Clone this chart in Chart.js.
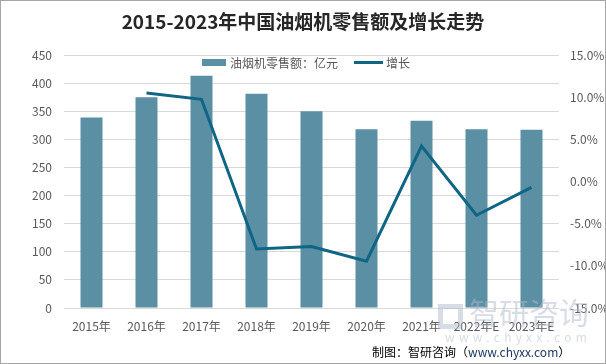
<!DOCTYPE html>
<html><head><meta charset="utf-8">
<script src="https://cdn.jsdelivr.net/npm/chart.js@4.4.1/dist/chart.umd.min.js"></script>
<style>
html,body{margin:0;padding:0;background:#fff;}
#wrap{position:relative;width:606px;height:364px;overflow:hidden;font-family:"Noto Sans CJK SC","Noto Sans",sans-serif;}
#frame{position:absolute;left:0;top:0;width:604px;height:362px;border:1px solid #A6A6A6;pointer-events:none;}
#title{position:absolute;left:0;top:7px;width:606px;text-align:center;font-size:19px;font-weight:bold;color:#262626;}
#legend{position:absolute;top:52px;left:202px;font-size:12px;color:#595959;white-space:nowrap;}
#legend span{display:inline-block;vertical-align:middle;}
#foot{position:absolute;left:372px;top:343px;font-size:12px;color:#000;white-space:nowrap;}
#foot b{font-weight:normal;color:#1F3864;}
#wm{position:absolute;left:438px;top:298px;color:rgba(175,185,205,0.5);white-space:nowrap;}
#wm .big{font-size:30px;letter-spacing:0px;position:absolute;left:31px;top:-7px;line-height:40px;}
#wm .sm{font-size:12px;letter-spacing:4.3px;position:absolute;left:7px;top:30px;}
#wm .logo{position:absolute;left:0;top:6px;width:25px;height:25px;border:5px solid rgba(175,185,205,0.5);box-sizing:border-box;}
</style></head>
<body><div id="wrap">
<canvas id="c" width="606" height="364"></canvas>
<div id="title">2015-2023年中国油烟机零售额及增长走势</div>
<div id="legend"><span style="width:24px;height:7px;background:#5B8FA4;margin-right:4px"></span><span>油烟机零售额：亿元</span><span style="width:29px;height:3px;background:#0F6584;margin-left:16px;margin-right:3px"></span><span>增长</span></div>
<div id="wm"><div class="logo"></div><div class="big">智研咨询</div><div class="sm">www.chyxx.com</div></div>
<div id="foot">制图：智研咨询（<b>www.chyxx.com</b>）</div>
<div id="frame"></div>
</div>
<script>
const categories = ["2015年","2016年","2017年","2018年","2019年","2020年","2021年","2022年E","2023年E"];
const salesValues = [339, 375, 413, 381, 350, 318, 333, 318, 317];
const growthValues = [null, 0.105, 0.0975, -0.080, -0.077, -0.0945, 0.042, -0.040, -0.007];
const leftTicks = [0,50,100,150,200,250,300,350,400,450];

const font = {family:'"Noto Sans CJK SC","Noto Sans",sans-serif', size:12};
new Chart(document.getElementById('c'), {
  data: {
    labels: categories,
    datasets: [
      {type:'line', label:'增长', data:growthValues, yAxisID:'y2', borderColor:'#0F6584', borderWidth:3, pointRadius:0, tension:0, spanGaps:false, order:0},
      {type:'bar', label:'油烟机零售额：亿元', data:salesValues, yAxisID:'y', backgroundColor:'#5B8FA4', barPercentage:0.4, categoryPercentage:1, order:1}
    ]
  },
  options: {
    responsive:false, animation:false,
    layout:{padding:{top:55,left:0,right:0,bottom:0}},
    plugins:{legend:{display:false}, title:{display:false}, tooltip:{enabled:false}},
    scales:{
      x:{grid:{display:false,drawTicks:false}, border:{display:false},
         ticks:{color:'#595959', font:font, padding:11, maxRotation:0, autoSkip:false},
         afterFit:s=>{s.height=56;}},
      y:{position:'left', min:0, max:450, grid:{color:'#D9D9D9', drawTicks:false}, border:{display:false},
         afterBuildTicks:s=>{s.ticks=leftTicks.map(v=>({value:v}));},
         ticks:{color:'#595959', font:font, padding:12},
         afterFit:s=>{s.width=64;}},
      y2:{position:'right', min:-0.15, max:0.15, grid:{display:false, drawTicks:false}, border:{display:false},
         ticks:{stepSize:0.05, color:'#595959', font:font, padding:11, callback:v=>(v*100).toFixed(1)+'%'},
         afterFit:s=>{s.width=47;}}
    }
  }
});
</script>
</body></html>
